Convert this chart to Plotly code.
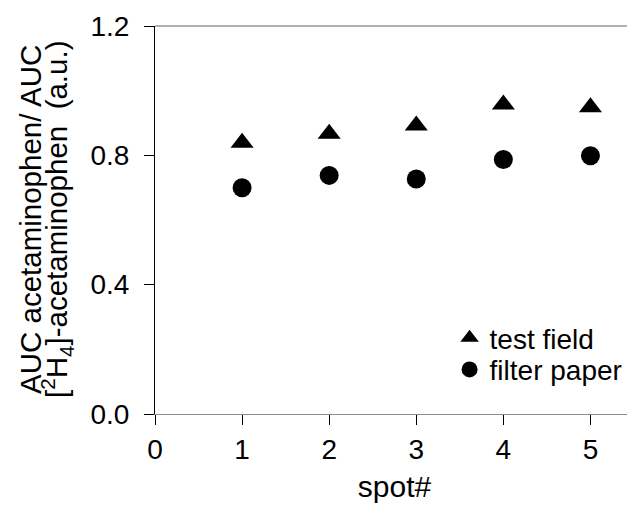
import plotly.graph_objects as go

spots = [1, 2, 3, 4, 5]
test_field = [0.839, 0.867, 0.892, 0.957, 0.949]
filter_paper = [0.700, 0.738, 0.727, 0.787, 0.799]
x_ticks = [0, 1, 2, 3, 4, 5]
y_ticks = [0.0, 0.4, 0.8, 1.2]
y_ticklabels = ["0.0", "0.4", "0.8", "1.2"]

FONT = "Liberation Sans, Arial, sans-serif"

fig = go.Figure()
fig.add_trace(go.Scatter(
    x=spots, y=test_field, mode="markers", name="test field",
    marker=dict(symbol="triangle-up", size=20, color="black"),
    legend="legend", showlegend=True))
fig.add_trace(go.Scatter(
    x=spots, y=filter_paper, mode="markers", name="filter paper",
    marker=dict(symbol="circle", size=19, color="black"),
    legend="legend2", showlegend=True))

# page body has an 8px offset; figure sized to fill the window
fig.update_layout(
    width=627, height=498,
    margin=dict(l=147, r=1, t=18, b=92),
    showlegend=True,
    paper_bgcolor="white", plot_bgcolor="white",
    font=dict(family=FONT, size=28, color="black"),
    xaxis=dict(range=[0, 5.5], tickvals=x_ticks, ticks="outside", ticklen=10,
               tickcolor="black", showline=True, linecolor="#8c8c8c", linewidth=1,
               showgrid=False, zeroline=False, automargin=False,
               title=dict(text="spot#", standoff=12, font=dict(size=30)),
               tickfont=dict(size=28)),
    yaxis=dict(range=[0, 1.2], tickvals=y_ticks, ticktext=y_ticklabels,
               ticks="outside", ticklen=10, tickcolor="black",
               ticklabelstandoff=9,
               showline=True, linecolor="black", linewidth=1, automargin=False,
               showgrid=False, zeroline=False, tickfont=dict(size=28)),
    legend=dict(x=0.615, y=0.196, xanchor="left", yanchor="middle",
                bgcolor="rgba(0,0,0,0)", font=dict(size=28)),
    legend2=dict(x=0.615, y=0.114, xanchor="left", yanchor="middle",
                 bgcolor="rgba(0,0,0,0)", font=dict(size=28)),
    shapes=[
        dict(type="line", xref="paper", yref="paper", x0=0, x1=1, y0=1, y1=1,
             line=dict(color="#606060", width=1)),
        dict(type="line", xref="paper", yref="paper", x0=1, x1=1, y0=0, y1=1,
             line=dict(color="#c8c8c8", width=1)),
    ],
    annotations=[
        dict(text="AUC acetaminophen/ AUC", xref="paper", yref="paper",
             x=0, y=0.5, xanchor="center", yanchor="middle", xshift=-125,
             textangle=-90, showarrow=False, font=dict(size=29.5)),
        dict(text="[<sup>2</sup>H<sub>4</sub>]-acetaminophen  (a.u.)",
             xref="paper", yref="paper",
             x=0, y=0.5, xanchor="center", yanchor="middle", xshift=-98,
             textangle=-90, showarrow=False, font=dict(size=29.5)),
    ],
)

fig.write_html("out.html")
